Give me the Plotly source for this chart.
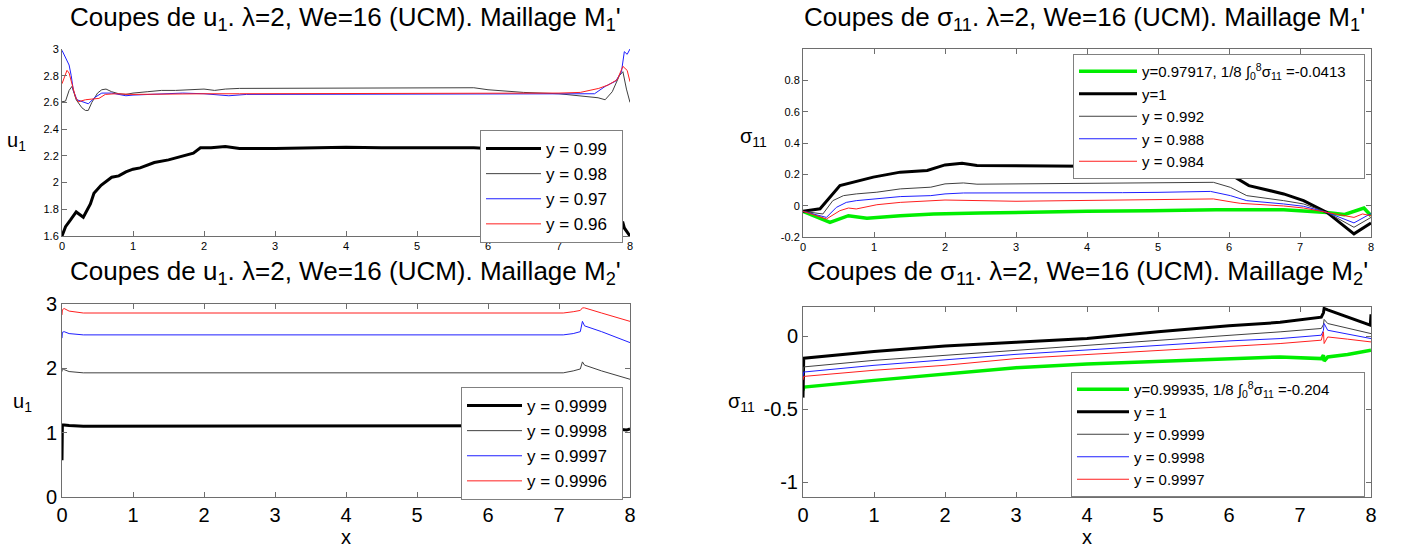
import plotly.graph_objects as go

W, H = 1402, 548
FONT = "Liberation Sans, Arial, sans-serif"

# ---------------- Top-left: u1, mesh M1' ----------------
x_u099 = [0, 0.05, 0.12, 0.2, 0.3, 0.4, 0.45, 0.55, 0.7, 0.8, 0.9, 1.0, 1.1, 1.2, 1.3, 1.5, 1.7, 1.85, 1.95,
          2.1, 2.3, 2.5, 3.0, 3.5, 4.0, 4.5, 5.0, 5.5, 5.8, 6.2, 6.6, 7.0, 7.3, 7.67, 7.9, 7.92, 8.0]
u_099 = [1.6, 1.67, 1.72, 1.78, 1.74, 1.84, 1.92, 1.98, 2.04, 2.05, 2.08, 2.10, 2.11, 2.13, 2.15, 2.17, 2.20, 2.22, 2.26,
         2.26, 2.27, 2.255, 2.255, 2.26, 2.265, 2.26, 2.26, 2.265, 2.26, 2.25, 2.2, 2.05, 1.9, 1.71, 1.70, 1.66, 1.6]

x_u098 = [0, 0.05, 0.1, 0.14, 0.2, 0.28, 0.33, 0.37, 0.42, 0.5, 0.56, 0.62, 0.7, 0.8, 0.9, 1.0, 1.2, 1.4, 1.6, 1.8,
          2.0, 2.15, 2.3, 2.5, 3.0, 3.5, 4.0, 4.5, 5.0, 5.5, 5.8, 6.0, 6.2, 6.5, 7.0, 7.2, 7.4, 7.55, 7.65, 7.75,
          7.85, 7.9, 7.95, 8.0]
u_098 = [2.605, 2.61, 2.69, 2.72, 2.62, 2.56, 2.54, 2.54, 2.6, 2.67, 2.695, 2.70, 2.68, 2.665, 2.66, 2.67, 2.68, 2.69,
         2.69, 2.695, 2.70, 2.69, 2.70, 2.705, 2.705, 2.71, 2.71, 2.71, 2.71, 2.71, 2.71, 2.695, 2.685, 2.675, 2.665,
         2.655, 2.645, 2.635, 2.62, 2.68, 2.80, 2.83, 2.70, 2.6]

x_u097 = [0, 0.04, 0.07, 0.1, 0.13, 0.16, 0.21, 0.28, 0.37, 0.47, 0.56, 0.7, 0.8, 0.9, 1.0, 1.2, 1.5, 1.7, 2.0, 2.2,
          2.35, 2.6, 3.0, 3.5, 4.0, 4.5, 5.0, 5.5, 6.0, 6.5, 7.0, 7.3, 7.5, 7.65, 7.8, 7.88, 7.92, 7.96, 8.0]
u_097 = [2.99, 2.95, 2.92, 2.88, 2.80, 2.69, 2.62, 2.605, 2.59, 2.64, 2.67, 2.67, 2.66, 2.65, 2.655, 2.66, 2.665,
         2.67, 2.665, 2.655, 2.65, 2.66, 2.66, 2.665, 2.665, 2.66, 2.665, 2.66, 2.665, 2.665, 2.665, 2.66, 2.665,
         2.72, 2.76, 2.83, 2.98, 2.96, 3.0]

x_u096 = [0, 0.05, 0.07, 0.1, 0.14, 0.19, 0.23, 0.33, 0.42, 0.52, 0.61, 0.75, 1.0, 1.5, 2.0, 2.5, 3.0, 3.5, 4.0, 4.5,
          5.0, 5.5, 6.0, 6.5, 7.0, 7.3, 7.56, 7.69, 7.82, 7.9, 7.96, 8.0]
u_096 = [2.74, 2.82, 2.84, 2.82, 2.74, 2.64, 2.605, 2.62, 2.625, 2.63, 2.66, 2.665, 2.66, 2.665, 2.665, 2.665, 2.665,
         2.665, 2.665, 2.665, 2.665, 2.665, 2.665, 2.665, 2.67, 2.675, 2.705, 2.73, 2.77, 2.87, 2.84, 2.755]

# ---------------- Top-right: sigma11, mesh M1' ----------------
x_s1 = [0, 0.24, 0.52, 0.71, 0.99, 1.37, 1.75, 2.0, 2.24, 2.45, 3.0, 3.5, 4.0, 4.5, 5.0, 5.5, 5.85, 6.02, 6.28,
        6.77, 7.05, 7.38, 7.76, 8.0]
s_1 = [-0.036, -0.02, 0.128, 0.15, 0.182, 0.214, 0.225, 0.26, 0.27, 0.257, 0.255, 0.25, 0.25, 0.25, 0.25, 0.25,
       0.245, 0.2, 0.128, 0.075, 0.032, -0.043, -0.18, -0.11]

x_s0992 = [0, 0.28, 0.42, 0.57, 0.75, 1.04, 1.37, 1.8, 2.0, 2.26, 2.45, 3.0, 3.5, 4.0, 4.5, 5.0, 5.5, 5.78, 6.02,
           6.25, 6.77, 7.05, 7.38, 7.76, 8.0]
s_0992 = [-0.036, -0.053, 0.032, 0.064, 0.075, 0.086, 0.107, 0.118, 0.139, 0.145, 0.137, 0.139, 0.14, 0.142, 0.144,
          0.146, 0.148, 0.149, 0.117, 0.064, 0.032, 0.011, -0.043, -0.138, -0.075]

x_s0988 = [0, 0.33, 0.47, 0.61, 0.75, 1.04, 1.37, 1.8, 2.0, 2.26, 3.0, 3.5, 4.0, 4.5, 5.0, 5.5, 5.74, 6.02, 6.25,
           6.77, 7.05, 7.38, 7.76, 8.0]
s_0988 = [-0.036, -0.075, -0.011, 0.021, 0.032, 0.043, 0.058, 0.064, 0.075, 0.081, 0.081, 0.08, 0.081, 0.083,
          0.085, 0.089, 0.091, 0.064, 0.032, 0.011, -0.004, -0.043, -0.11, -0.05]

x_s0984 = [0, 0.33, 0.52, 0.64, 0.75, 1.04, 1.37, 1.8, 2.0, 3.0, 3.5, 4.0, 4.5, 5.0, 5.5, 5.78, 6.07, 6.16, 6.77,
           7.05, 7.38, 7.76, 7.88, 8.0]
s_0984 = [-0.036, -0.085, -0.032, -0.015, -0.021, 0.006, 0.021, 0.028, 0.036, 0.028, 0.03, 0.032, 0.036, 0.039,
          0.042, 0.043, 0.021, 0.015, -0.002, -0.015, -0.043, -0.075, -0.053, -0.064]

x_s97917 = [0, 0.38, 0.64, 0.9, 1.37, 1.84, 2.5, 3.0, 3.49, 4.0, 4.89, 5.82, 6.77, 7.05, 7.38, 7.62, 7.9, 8.0]
s_97917 = [-0.036, -0.107, -0.064, -0.08, -0.064, -0.053, -0.047, -0.042, -0.038, -0.036, -0.032, -0.026, -0.026,
           -0.032, -0.043, -0.057, -0.015, -0.064]

# ---------------- Bottom-left: u1, mesh M2' ----------------
x_b = [0, 0.005, 0.03, 0.1, 0.3, 1, 2, 3, 4, 5, 6, 7.06, 7.2, 7.3, 7.33, 7.36, 7.6, 7.95, 8.0]
u_09999 = [0.57, 1.12, 1.12, 1.11, 1.10, 1.10, 1.10, 1.10, 1.10, 1.10, 1.10, 1.10, 1.11, 1.12, 1.13, 1.12, 1.08,
           1.04, 1.06]
u_09998 = [1.95, 2.0, 1.98, 1.95, 1.93, 1.93, 1.93, 1.93, 1.93, 1.93, 1.93, 1.93, 1.96, 1.99, 2.1, 2.05, 1.96,
           1.85, 1.83]
u_09997 = [2.47, 2.56, 2.57, 2.54, 2.52, 2.52, 2.52, 2.52, 2.52, 2.52, 2.52, 2.52, 2.54, 2.57, 2.73, 2.66, 2.57,
           2.43, 2.40]
u_09996 = [2.83, 2.91, 2.93, 2.89, 2.86, 2.86, 2.86, 2.86, 2.86, 2.86, 2.86, 2.86, 2.88, 2.90, 2.94, 2.94, 2.86,
           2.75, 2.73]

# ---------------- Bottom-right: sigma11, mesh M2' ----------------
x_c = [0, 0.01, 1, 2, 3, 4, 5, 6, 6.72, 7.3, 7.33, 7.34, 7.39, 7.67, 7.85, 7.99, 8.0]
c_1 = [-0.42, -0.15, -0.105, -0.066, -0.042, -0.016, 0.03, 0.072, 0.095, 0.13, 0.16, 0.19, 0.18, 0.133, 0.098,
       0.075, 0.15]
c_09999 = [-0.25, -0.21, -0.165, -0.13, -0.096, -0.062, -0.028, 0.006, 0.03, 0.053, 0.08, 0.115, 0.087, 0.055,
           0.035, 0.018, 0.018]
c_09998 = [-0.28, -0.245, -0.199, -0.16, -0.124, -0.094, -0.063, -0.032, -0.016, 0.007, 0.04, 0.087, 0.041, 0.015,
           0.0, -0.016, -0.016]
c_09997 = [-0.3, -0.275, -0.233, -0.199, -0.153, -0.125, -0.097, -0.068, -0.05, -0.027, 0.03, -0.05, -0.005,
           -0.02, -0.03, -0.039, -0.039]
c_99935 = [-0.37, -0.348, -0.302, -0.256, -0.215, -0.19, -0.172, -0.152, -0.142, -0.153, -0.13, -0.17, -0.142,
           -0.125, -0.11, -0.096, -0.096]

x_ticks = [0, 1, 2, 3, 4, 5, 6, 7, 8]

BLACK, GRAY, BLUE, RED, GREEN = "#000000", "#404040", "#1f1fff", "#ff1f1f", "#00ee00"
NB = "\u00a0"

fig = go.Figure()


def add(x, y, name, color, width, xa, ya, legend):
    fig.add_trace(go.Scatter(x=x, y=y, mode="lines", name=name, line=dict(color=color, width=width),
                             xaxis=xa, yaxis=ya, legend=legend, showlegend=True, hoverinfo="skip"))


add(x_u099, u_099, "y = 0.99" + NB * 2, BLACK, 3, "x", "y", "legend")
add(x_u098, u_098, "y = 0.98", GRAY, 1, "x", "y", "legend")
add(x_u097, u_097, "y = 0.97", BLUE, 1, "x", "y", "legend")
add(x_u096, u_096, "y = 0.96", RED, 1, "x", "y", "legend")

add(x_s97917, s_97917, "y=0.97917, 1/8 ∫<sub>0</sub><sup>8</sup>σ<sub>11</sub> =-0.0413" + NB * 3, GREEN, 3.5,
    "x2", "y2", "legend2")
add(x_s1, s_1, "y=1", BLACK, 3, "x2", "y2", "legend2")
add(x_s0992, s_0992, "y = 0.992", GRAY, 1, "x2", "y2", "legend2")
add(x_s0988, s_0988, "y = 0.988", BLUE, 1, "x2", "y2", "legend2")
add(x_s0984, s_0984, "y = 0.984", RED, 1, "x2", "y2", "legend2")

add(x_b, u_09999, "y = 0.9999" + NB * 2, BLACK, 3, "x3", "y3", "legend3")
add(x_b, u_09998, "y = 0.9998", GRAY, 1, "x3", "y3", "legend3")
add(x_b, u_09997, "y = 0.9997", BLUE, 1, "x3", "y3", "legend3")
add(x_b, u_09996, "y = 0.9996", RED, 1, "x3", "y3", "legend3")

add(x_c, c_99935, "y=0.99935, 1/8 ∫<sub>0</sub><sup>8</sup>σ<sub>11</sub> =-0.204" + NB * 7, GREEN, 3.5,
    "x4", "y4", "legend4")
add(x_c, c_1, "y = 1", BLACK, 3, "x4", "y4", "legend4")
add(x_c, c_09999, "y = 0.9999", GRAY, 1, "x4", "y4", "legend4")
add(x_c, c_09998, "y = 0.9998", BLUE, 1, "x4", "y4", "legend4")
add(x_c, c_09997, "y = 0.9997", RED, 1, "x4", "y4", "legend4")


def px_x(a, b):
    return [a / W, b / W]


def px_y(top, bottom):
    return [1 - bottom / H, 1 - top / H]


def axis(dom, rng, mirror, fs, tickvals=None, ticktext=None, anchor=None):
    d = dict(domain=dom, range=rng, showline=True, linecolor="#6e6e6e", linewidth=1,
             mirror="ticks" if mirror else False, ticks="inside", ticklen=5, tickcolor="#6e6e6e",
             showgrid=False, zeroline=False, automargin=False, fixedrange=True,
             tickfont=dict(size=fs, color="black", family=FONT), anchor=anchor)
    if tickvals is not None:
        d["tickvals"] = tickvals
    if ticktext is not None:
        d["ticktext"] = ticktext
    return d


legend_common = dict(bgcolor="white", bordercolor="#808080", borderwidth=1, xanchor="right", yanchor="top",
                     tracegroupgap=0, itemclick=False, itemdoubleclick=False)

fig.update_layout(
    width=W, height=H, margin=dict(l=0, r=0, t=0, b=0, pad=0, autoexpand=False),
    paper_bgcolor="white", plot_bgcolor="white",
    font=dict(family=FONT, color="black"),
    hovermode=False,
    xaxis=axis(px_x(62, 630), [0, 8], False, 11, x_ticks, anchor="y"),
    yaxis=axis(px_y(49, 236), [1.6, 3.0], False, 11, [1.6, 1.8, 2.0, 2.2, 2.4, 2.6, 2.8, 3.0],
               ["1.6", "1.8", "2", "2.2", "2.4", "2.6", "2.8", "3"], anchor="x"),
    xaxis2=axis(px_x(803, 1371), [0, 8], True, 11, x_ticks, anchor="y2"),
    yaxis2=axis(px_y(49, 237), [-0.2, 1.0], True, 11, [-0.2, 0, 0.2, 0.4, 0.6, 0.8],
                ["-0.2", "0", "0.2", "0.4", "0.6", "0.8"], anchor="x2"),
    xaxis3=axis(px_x(62, 630), [0, 8], True, 20, x_ticks, anchor="y3"),
    yaxis3=axis(px_y(304, 497), [0, 3], True, 20, [0, 1, 2, 3], anchor="x3"),
    xaxis4=axis(px_x(803, 1371), [0, 8], True, 20, x_ticks, anchor="y4"),
    yaxis4=axis(px_y(307, 497), [-1.1, 0.2], True, 20, [-1, -0.5, 0], ["-1", "-0.5", "0"], anchor="x4"),
    legend=dict(legend_common, x=623 / W, y=1 - 130 / H, itemwidth=55, font=dict(size=17, family=FONT)),
    legend2=dict(legend_common, x=1365 / W, y=1 - 54 / H, itemwidth=58, font=dict(size=15, family=FONT)),
    legend3=dict(legend_common, x=623 / W, y=1 - 387 / H, itemwidth=55, font=dict(size=17, family=FONT)),
    legend4=dict(legend_common, x=1365 / W, y=1 - 372 / H, itemwidth=52, font=dict(size=15, family=FONT)),
)

anns = []
title_tpl = "Coupes de {v}. λ=2, We=16 (UCM). Maillage M<sub>{m}</sub>'"
for (cx, cy, v, m) in [(345, 19, "u<sub>1</sub>", 1), (1084, 19, "σ<sub>11</sub>", 1),
                       (345, 272, "u<sub>1</sub>", 2), (1087, 272, "σ<sub>11</sub>", 2)]:
    anns.append(dict(text=title_tpl.format(v=v, m=m), x=cx / W, y=1 - cy / H, xref="paper", yref="paper",
                     xanchor="center", yanchor="middle", showarrow=False, font=dict(size=26, family=FONT)))
for (cx, cy, t) in [(16, 142, "u<sub>1</sub>"), (753, 137, "σ<sub>11</sub>"),
                    (22, 402, "u<sub>1</sub>"), (741, 402, "σ<sub>11</sub>"),
                    (346, 537, "x"), (1087, 537, "x")]:
    anns.append(dict(text=t, x=cx / W, y=1 - cy / H, xref="paper", yref="paper", xanchor="center",
                     yanchor="middle", showarrow=False, font=dict(size=20, family=FONT)))
fig.update_layout(annotations=anns)

fig.write_html("out.html", config={"displayModeBar": False, "staticPlot": False},
               post_script="document.body.style.margin='0px';document.body.style.overflow='hidden';")
